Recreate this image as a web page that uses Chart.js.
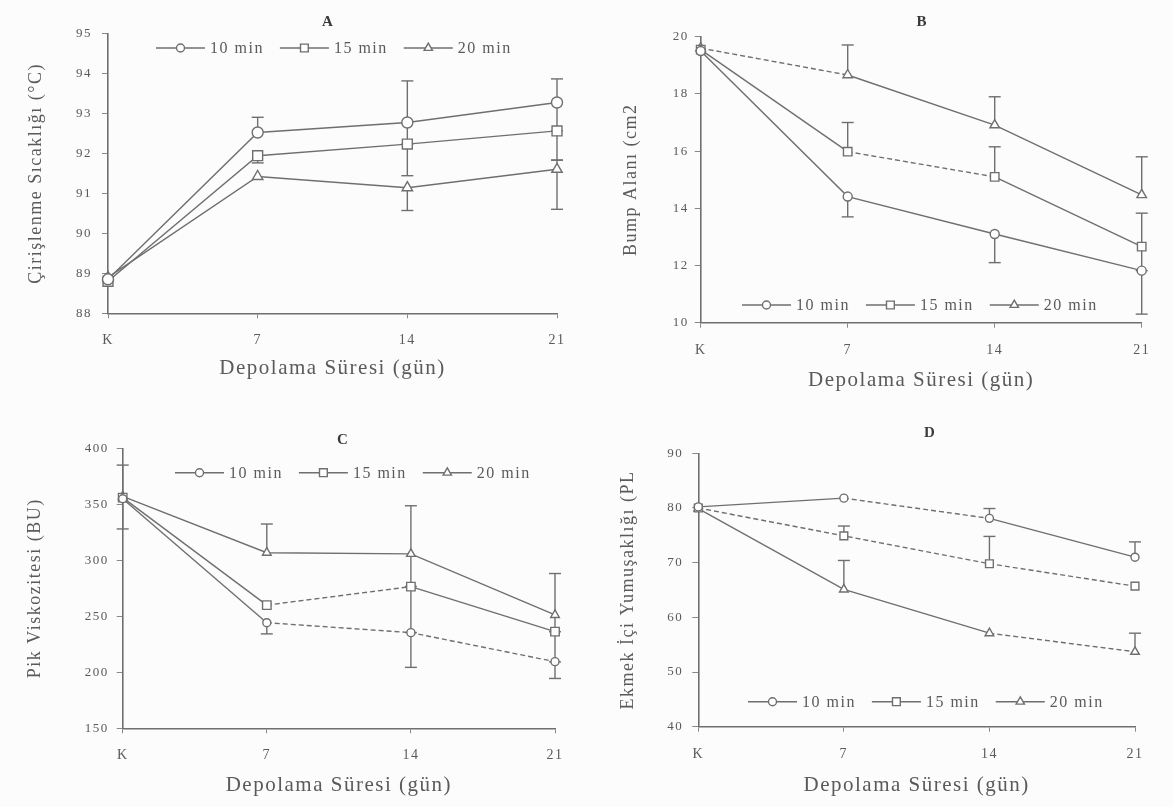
<!DOCTYPE html>
<html>
<head>
<meta charset="utf-8">
<script src="https://cdn.jsdelivr.net/npm/chart.js@4.4.1/dist/chart.umd.min.js"></script>
<style>
html, body { margin:0; padding:0; background:#fcfcfc; }
#wrap { position:relative; width:1173px; height:807px; overflow:hidden; background:#fcfcfc; }
canvas { position:absolute; }
</style>
</head>
<body>
<div id="wrap">
  <canvas id="cA" width="590" height="400" style="left:0px;top:0px"></canvas>
  <canvas id="cB" width="583" height="400" style="left:590px;top:0px"></canvas>
  <canvas id="cC" width="590" height="407" style="left:0px;top:400px"></canvas>
  <canvas id="cD" width="583" height="407" style="left:590px;top:400px"></canvas>
</div>
<script>
// ---------- data ----------
const categories = ['K', '7', '14', '21'];
const seriesNames = ['10 min', '15 min', '20 min'];
const xTitle = 'Depolama Süresi (gün)';

// Panel A – Çirişlenme Sıcaklığı (°C)
const A_10 = [88.85, 92.52, 92.77, 93.27];
const A_15 = [88.80, 91.94, 92.23, 92.56];
const A_20 = [88.90, 91.42, 91.14, 91.60];
const A_10_up = [0, 0.38, 1.04, 0.59];
const A_15_up = [0, 0, 0, 0];
const A_20_up = [0, 0, 0, 0.23];
const A_10_down = [0, 0, 0.54, 0.71];
const A_15_down = [0, 0.18, 0.79, 0.73];
const A_20_down = [0, 0, 0.57, 1.00];
const A_ticks = [88, 89, 90, 91, 92, 93, 94, 95];

// Panel B – Bump Alanı (cm2)
const B_10 = [19.50, 14.41, 13.10, 11.82];
const B_15 = [19.55, 15.98, 15.10, 12.66];
const B_20 = [19.60, 18.66, 16.91, 14.47];
const B_10_up = [0, 0, 0, 0];
const B_15_up = [0, 1.02, 1.05, 1.17];
const B_20_up = [0, 1.05, 0.99, 1.33];
const B_10_down = [0, 0.71, 1.00, 1.52];
const B_15_down = [0, 0, 0, 0.84];
const B_20_down = [0, 0, 0, 0];
const B_ticks = [10, 12, 14, 16, 18, 20];

// Panel C – Pik Viskozitesi (BU)
const C_10 = [355, 244.3, 235.4, 209.5];
const C_15 = [356, 260.0, 276.5, 236.3];
const C_20 = [357, 306.8, 305.7, 251.2];
const C_10_up = [0, 0, 0, 0];
const C_15_up = [0, 0, 0, 0];
const C_20_up = [28, 25.6, 43, 37];
const C_10_down = [27, 10, 31, 15];
const C_15_down = [0, 0, 41, 27];
const C_20_down = [0, 0, 29, 15];
const C_ticks = [150, 200, 250, 300, 350, 400];

// Panel D – Ekmek İçi Yumuşaklığı (PL)
const D_10 = [80.2, 81.8, 78.1, 71.0];
const D_15 = [80.0, 74.9, 69.8, 65.7];
const D_20 = [79.9, 65.1, 57.1, 53.7];
const D_10_up = [0, 0, 1.8, 2.8];
const D_15_up = [0, 1.8, 5.0, 0];
const D_20_up = [0, 5.3, 0, 3.4];
const D_10_down = [0, 0, 0, 0];
const D_15_down = [0, 0, 0, 0];
const D_20_down = [0, 0, 0, 0];
const D_ticks = [40, 50, 60, 70, 80, 90];

// ---------- styles ----------
const SERIF = "'Liberation Serif', 'Times New Roman', 'DejaVu Serif', serif";
const LINE = '#6f6f6f';
const TEXT = '#5a5a5a';
const pointStyles = ['circle', 'rect', 'triangle'];

const panels = [
  { id:'cA', W:590, H:400, title:'A', titleXY:[328,22], yTitle:'Çirişlenme Sıcaklığı (°C)',
    series:[A_10,A_15,A_20], up:[A_10_up,A_15_up,A_20_up], down:[A_10_down,A_15_down,A_20_down], ticks:A_ticks,
    area:{left:108,right:557,top:33.3,bottom:313.3}, yTitleX:36, xTitleY:368, yTickPad:10,
    legendXY:[156,48], pointR:[5.5,7,6], dash:[[0,0,0],[0,0,0],[0,0,0]] },
  { id:'cB', W:583, H:400, title:'B', titleXY:[332,22], yTitle:'Bump Alanı (cm2',
    series:[B_10,B_15,B_20], up:[B_10_up,B_15_up,B_20_up], down:[B_10_down,B_15_down,B_20_down], ticks:B_ticks,
    area:{left:110.7,right:551.7,top:36.7,bottom:322.7}, yTitleX:41.7, xTitleY:380, yTickPad:6,
    legendXY:[152,305], pointR:[4.5,6,5.5], dash:[[0,0,0],[0,1,0],[1,0,0]] },
  { id:'cC', W:590, H:407, title:'C', titleXY:[343,40], yTitle:'Pik Viskozitesi (BU)',
    series:[C_10,C_15,C_20], up:[C_10_up,C_15_up,C_20_up], down:[C_10_down,C_15_down,C_20_down], ticks:C_ticks,
    area:{left:122.7,right:555,top:48.3,bottom:328.3}, yTitleX:35.7, xTitleY:385, yTickPad:8,
    legendXY:[175,72.7], pointR:[4,6,5], dash:[[0,1,1],[0,1,0],[0,0,0]] },
  { id:'cD', W:583, H:407, title:'D', titleXY:[340,33], yTitle:'Ekmek İçi Yumuşaklığı (PL',
    series:[D_10,D_15,D_20], up:[D_10_up,D_15_up,D_20_up], down:[D_10_down,D_15_down,D_20_down], ticks:D_ticks,
    area:{left:108.3,right:545,top:53.3,bottom:326.7}, yTitleX:38, xTitleY:385, yTickPad:9,
    legendXY:[158,301.7], pointR:[4,5.5,5], dash:[[0,1,0],[1,1,1],[0,0,1]] }
];

function drawMarker(ctx, style, r, x, y) {
  ctx.beginPath();
  if (style === 'circle') ctx.arc(x, y, r, 0, Math.PI * 2);
  else if (style === 'rect') { const s = r * Math.SQRT1_2; ctx.rect(x - s, y - s, 2 * s, 2 * s); }
  else { ctx.moveTo(x, y - r); ctx.lineTo(x + r * 0.866, y + r * 0.5); ctx.lineTo(x - r * 0.866, y + r * 0.5); ctx.closePath(); }
  ctx.fill(); ctx.stroke();
}

function makePanel(p) {
  const TITLE_FONT = 18, XT_FONT = 21;
  const yw = p.area.left;
  const xh = p.xTitleY - p.area.bottom + XT_FONT * 1.2 / 2;
  const padBottom = p.H - p.area.bottom - xh;

  const spacing = {
    id: 'spacing',
    beforeUpdate(chart) { chart.ctx.letterSpacing = '1.5px'; },
    beforeDraw(chart) { chart.ctx.letterSpacing = '1.5px'; }
  };

  const errBars = {
    id: 'errBars',
    beforeDatasetsDraw(chart) {
      const ctx = chart.ctx, ys = chart.scales.y;
      ctx.save();
      ctx.strokeStyle = LINE; ctx.lineWidth = 1.4;
      const seg = (x1, y1, x2, y2) => { ctx.beginPath(); ctx.moveTo(x1, y1); ctx.lineTo(x2, y2); ctx.stroke(); };
      p.series.forEach((vals, i) => {
        const meta = chart.getDatasetMeta(i);
        vals.forEach((v, j) => {
          const x = meta.data[j].x, y0 = ys.getPixelForValue(v);
          const u = p.up[i][j], d = p.down[i][j];
          if (u) { const y1 = ys.getPixelForValue(v + u); seg(x, y0, x, y1); seg(x - 6, y1, x + 6, y1); }
          if (d) { const y1 = ys.getPixelForValue(v - d); seg(x, y0, x, y1); seg(x - 6, y1, x + 6, y1); }
        });
      });
      ctx.restore();
    }
  };

  const decor = {
    id: 'decor',
    afterDraw(chart) {
      const ctx = chart.ctx;
      ctx.save();
      ctx.letterSpacing = '1px';
      ctx.fillStyle = '#3a3a3a';
      ctx.font = 'bold 15px ' + SERIF;
      ctx.textAlign = 'center'; ctx.textBaseline = 'middle';
      ctx.fillText(p.title, p.titleXY[0], p.titleXY[1]);
      // legend
      ctx.letterSpacing = '1.5px';
      ctx.font = '16px ' + SERIF;
      ctx.textAlign = 'left';
      let x = p.legendXY[0];
      const y = p.legendXY[1];
      const symW = 49;
      seriesNames.forEach((name, i) => {
        ctx.strokeStyle = LINE; ctx.lineWidth = 1.4;
        ctx.beginPath(); ctx.moveTo(x, y); ctx.lineTo(x + symW, y); ctx.stroke();
        ctx.fillStyle = '#ffffff';
        drawMarker(ctx, pointStyles[i], [4, 5.5, 4.8][i], x + symW / 2, y);
        ctx.fillStyle = TEXT;
        ctx.fillText(name, x + symW + 5, y + 1);
        x += symW + 5 + ctx.measureText(name).width + 16;
      });
      ctx.restore();
    }
  };

  const datasets = p.series.map((vals, i) => ({
    label: seriesNames[i],
    data: vals,
    borderColor: LINE,
    borderWidth: 1.4,
    pointStyle: pointStyles[i],
    pointRadius: p.pointR[i],
    pointHoverRadius: p.pointR[i],
    pointBackgroundColor: '#ffffff',
    pointBorderColor: LINE,
    pointBorderWidth: 1.4,
    tension: 0,
    fill: false,
    segment: { borderDash: c => (p.dash[i][c.p0DataIndex] ? [5, 3] : undefined) }
  }));

  return new Chart(document.getElementById(p.id), {
    type: 'line',
    data: { labels: categories, datasets },
    options: {
      responsive: false,
      animation: false,
      devicePixelRatio: 1,
      layout: { padding: { left: 0, right: p.W - p.area.right, top: p.area.top, bottom: padBottom } },
      plugins: { legend: { display: false }, title: { display: false }, tooltip: { enabled: false } },
      scales: {
        x: {
          type: 'category',
          offset: false,
          afterFit(s) { s.height = xh; },
          grid: { display: true, drawOnChartArea: false, drawTicks: true, tickLength: 5, color: '#888', lineWidth: 1 },
          border: { display: true, color: LINE, width: 1.6 },
          ticks: { color: TEXT, font: { family: SERIF, size: 14 }, padding: 14, maxRotation: 0, autoSkip: false },
          title: { display: true, text: xTitle, color: TEXT, font: { family: SERIF, size: XT_FONT }, padding: { top: 0, bottom: 0 } }
        },
        y: {
          min: p.ticks[0],
          max: p.ticks[p.ticks.length - 1],
          afterFit(s) { s.width = yw; },
          afterBuildTicks(s) { s.ticks = p.ticks.map(v => ({ value: v })); },
          grid: { display: true, drawOnChartArea: false, drawTicks: true, tickLength: 6, color: '#888', lineWidth: 1 },
          border: { display: true, color: LINE, width: 1.6 },
          ticks: { color: TEXT, font: { family: SERIF, size: 13 }, padding: p.yTickPad },
          title: { display: true, text: p.yTitle, color: TEXT, font: { family: SERIF, size: TITLE_FONT },
                   padding: { top: p.yTitleX - TITLE_FONT * 1.2 / 2, bottom: 0 } }
        }
      }
    },
    plugins: [spacing, errBars, decor]
  });
}

panels.forEach(makePanel);
</script>
</body>
</html>
